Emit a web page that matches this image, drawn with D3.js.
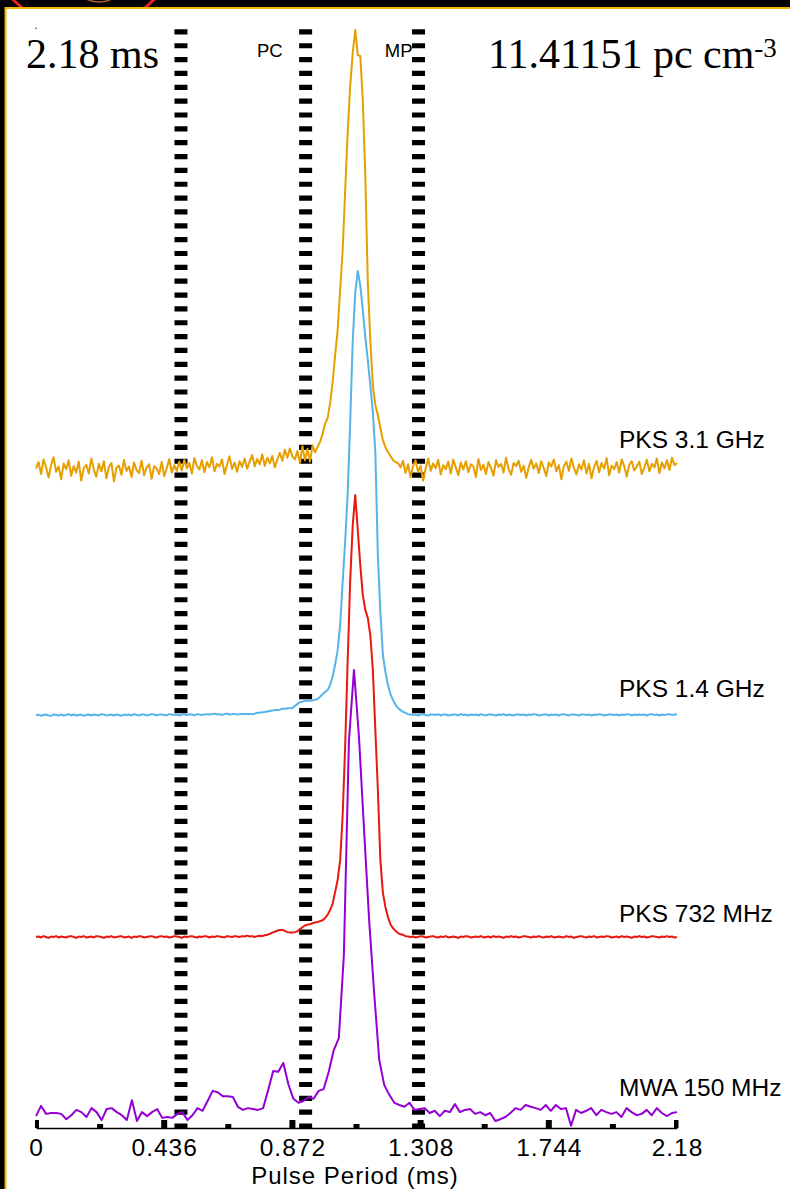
<!DOCTYPE html>
<html>
<head>
<meta charset="utf-8">
<script src="https://cdn.jsdelivr.net/npm/d3@7"></script>
<style>
  html, body { margin: 0; padding: 0; background: #000; }
  svg { display: block; }
</style>
</head>
<body>
<svg width="790" height="1189"></svg>
<script>
// pulse period in ms, and the axis ticks
const period = 2.18;
const tickValues = [0, 0.436, 0.872, 1.308, 1.744, 2.18];
const tickLabels = ['0', '0.436', '0.872', '1.308', '1.744', '2.18'];
const minorTicks = [0.218, 0.654, 1.09, 1.526, 1.962];

// phase windows (ms) marked with dashed lines
const windowEdges = [0.493, 0.917, 1.301];
const windowNames = ['PC', 'MP'];

const bands = ['PKS 3.1 GHz', 'PKS 1.4 GHz', 'PKS 732 MHz', 'MWA 150 MHz'];

// normalised profiles (% of peak), uniform phase bins over one period
const pks3100 = [
  0.3, 1.8, -0.9, 2.4, 0.6, -1.7, 1.1, 2.9, -0.4, 0.8,
  -2.1, 1.5, 0.2, 2.2, -1.3, 0.9, -0.6, 1.9, -2.4, 0.4,
  1.2, -0.8, 2.6, 0.1, -1.5, 1.4, -0.3, 2.0, -1.9, 0.7,
  1.6, -2.6, 0.5, 1.0, -1.1, 2.3, -0.2, 0.8, -1.6, 1.7,
  0.0, -0.7, 2.1, -1.2, 0.6, 1.3, -2.0, 0.9, 0.3, -0.9,
  1.8, -1.4, 0.4, 2.5, -0.6, 1.1, -0.2, 1.9, -0.1, 2.3,
  0.4, 1.6, -0.8, 2.7, 0.9, 0.1, 2.2, -0.5, 1.8, 0.6,
  2.9, -0.3, 1.4, 0.8, 2.4, -0.9, 1.2, 3.1, 0.2, 1.7,
  -0.4, 2.0, 0.7, 2.6, 0.3, 1.9, 3.4, 0.8, 2.5, 1.3,
  3.6, 0.9, 2.8, 1.5, 3.2, 0.6, 2.4, 3.9, 2.1, 4.6,
  2.8, 4.9, 3.1, 2.4, 4.3, 1.6, 5.4, 2.2, 4.8, 1.9,
  5.6, 4.0, 5.2, 6.4, 8.2, 10.5, 11.8, 15.2, 20.0, 26.1,
  31.8, 40.9, 50.0, 63.6, 76.8, 87.3, 94.8, 100, 94.3, 94.1,
  84.1, 67.0, 42.5, 29.5, 19.3, 14.8, 12.5, 9.5, 6.8, 5.2,
  4.1, 3.2, 2.3, 1.8, 1.6, 0.6, 2.1, -0.7, 1.3, -1.6,
  0.9, 2.2, -0.4, 1.0, -2.4, 0.3, 2.6, -0.2, 1.5, 0.4,
  2.3, -1.0, 1.1, 0.2, 1.9, -0.8, 2.4, 0.6, -1.2, 1.7,
  0.1, 2.0, -0.5, 1.3, 0.8, -1.6, 2.5, 0.0, 1.2, -0.9,
  1.8, 0.5, -1.3, 2.2, 0.7, 1.4, -0.6, 2.8, 0.2, -1.1,
  1.6, 0.9, 2.1, -0.4, 1.0, -1.8, 0.6, 2.3, 0.3, 1.5,
  -0.7, 2.0, 0.4, -1.4, 1.7, 0.8, 2.4, -0.3, 1.1, -2.1,
  0.9, 1.9, -0.2, 2.6, 0.5, -1.0, 1.3, 0.1, 2.2, -0.8,
  1.4, -1.9, 0.7, 2.1, -0.5, 1.6, 0.3, 2.7, -1.2, 1.0,
  0.2, 1.8, -0.6, 2.4, 0.9, -1.5, 1.2, 2.0, -0.1, 0.8,
  1.9, -0.9, 0.5, 2.3, -0.3, 1.4, 0.6, 2.6, -0.7, 1.7,
  0.4, 2.2, 0.0, 2.8, 1.1, 1.6
];

const pks1400 = [
  -0.1, 0.1, -0.2, 0.0, 0.1, -0.1, -0.2, 0.1, 0.0, -0.1,
  0.1, -0.1, 0.0, 0.2, -0.1, 0.1, -0.1, 0.0, 0.1, -0.2,
  0.0, 0.1, -0.1, 0.1, 0.0, -0.1, 0.2, 0.1, -0.1, 0.0,
  0.1, -0.1, 0.1, 0.0, -0.2, 0.1, 0.0, 0.1, -0.1, 0.2,
  0.0, -0.1, 0.1, 0.1, -0.1, 0.0, 0.2, 0.1, -0.1, 0.1,
  0.1, 0.0, -0.1, 0.2, 0.1, 0.0, 0.1, -0.1, 0.1, 0.2,
  0.0, 0.1, 0.1, -0.1, 0.2, 0.1, 0.0, 0.1, 0.2, 0.1,
  0.2, 0.3, 0.1, 0.2, 0.0, 0.2, 0.3, 0.1, 0.2, 0.2,
  0.1, 0.2, 0.2, 0.3, 0.2, 0.2, 0.2, 0.3, 0.5, 0.5,
  0.6, 0.7, 0.8, 0.9, 1.0, 1.1, 1.1, 1.2, 1.4, 1.4,
  1.5, 1.5, 1.6, 2.0, 2.5, 2.9, 3.0, 3.2, 3.2, 3.2,
  3.3, 3.4, 3.6, 4.1, 4.7, 5.2, 5.6, 6.8, 8.6, 11.3,
  14.6, 20.3, 30.0, 39.2, 50.0, 66.2, 84.2, 95.1, 100, 96.8,
  91.2, 85.1, 79.9, 74.3, 68.2, 59.2, 35.8, 23.2, 13.5, 9.7,
  6.8, 4.7, 3.4, 2.3, 1.6, 1.1, 0.7, 0.5, 0.2, 0.1,
  0.0, 0.1, -0.1, 0.1, 0.2, 0.0, -0.1, 0.1, 0.1, 0.0,
  0.2, -0.1, 0.1, 0.1, -0.1, 0.0, 0.1, 0.1, -0.1, 0.2,
  0.0, 0.1, -0.1, 0.1, 0.0, 0.1, -0.1, 0.2, 0.0, -0.1,
  0.1, 0.1, 0.0, -0.1, 0.1, 0.0, 0.2, -0.1, 0.1, 0.0,
  -0.1, 0.1, 0.1, 0.0, 0.1, -0.1, 0.1, 0.0, 0.2, 0.1,
  -0.1, 0.0, 0.1, 0.1, -0.1, 0.1, 0.0, 0.1, -0.1, 0.1,
  0.2, 0.0, -0.1, 0.1, 0.1, 0.0, -0.1, 0.1, 0.1, 0.0,
  0.1, -0.1, 0.1, 0.0, 0.2, 0.1, -0.1, 0.0, 0.1, 0.1,
  0.0, 0.1, -0.1, 0.1, 0.0, 0.2, 0.1, -0.1, 0.1, 0.0,
  0.1, 0.0, 0.1, -0.1, 0.1, 0.2, 0.0, 0.1, -0.1, 0.1,
  0.0, 0.1, 0.2, 0.0, 0.1, 0.1
];

const pks732 = [
  0.0, 0.1, -0.1, 0.2, 0.0, -0.2, 0.1, 0.0, 0.2, -0.1,
  0.1, 0.0, -0.1, 0.1, 0.2, 0.0, -0.2, 0.1, 0.0, 0.2,
  -0.1, 0.0, 0.1, -0.1, 0.2, 0.1, 0.0, -0.2, 0.1, 0.0,
  0.2, -0.1, 0.0, 0.1, 0.2, -0.1, 0.0, 0.1, -0.2, 0.1,
  0.0, 0.2, 0.1, -0.1, 0.0, 0.1, 0.2, 0.0, -0.1, 0.1,
  0.2, 0.0, 0.1, -0.1, 0.0, 0.2, 0.1, 0.0, -0.2, 0.1,
  0.0, 0.1, 0.2, 0.0, -0.1, 0.1, 0.0, 0.2, 0.1, -0.1,
  0.1, 0.0, 0.2, 0.1, 0.0, -0.1, 0.2, 0.1, 0.0, 0.2,
  0.1, 0.0, 0.2, 0.1, 0.3, 0.1, 0.2, 0.0, 0.2, 0.3,
  0.2, 0.4, 0.5, 0.7, 1.0, 1.2, 1.4, 1.6, 1.6, 1.4,
  1.1, 1.0, 1.0, 1.1, 1.3, 1.8, 2.2, 2.6, 2.8, 2.9,
  3.1, 3.3, 3.4, 3.6, 3.8, 4.3, 5.0, 6.1, 7.5, 10.2,
  12.9, 17.4, 27.6, 43.4, 62.7, 80.8, 93.2, 100, 92.1, 84.2,
  77.4, 74.0, 72.2, 68.3, 60.4, 46.8, 33.3, 17.4, 10.0, 6.8,
  4.5, 2.9, 2.0, 1.4, 0.9, 0.6, 0.5, 0.2, 0.1, 0.0,
  0.1, -0.1, 0.0, 0.2, 0.1, -0.1, 0.0, 0.1, 0.2, 0.0,
  -0.1, 0.1, 0.0, 0.2, -0.1, 0.0, 0.1, 0.0, -0.2, 0.1,
  0.0, 0.2, 0.1, -0.1, 0.0, 0.1, 0.0, 0.2, -0.1, 0.0,
  0.1, -0.1, 0.2, 0.0, 0.1, 0.0, -0.2, 0.1, 0.0, 0.2,
  0.0, 0.1, -0.1, 0.0, 0.2, 0.1, 0.0, -0.1, 0.1, 0.0,
  0.2, 0.0, -0.1, 0.1, 0.0, 0.2, -0.1, 0.0, 0.1, 0.0,
  -0.1, 0.2, 0.0, 0.1, -0.2, 0.0, 0.1, 0.2, 0.0, -0.1,
  0.1, 0.0, 0.2, -0.1, 0.0, 0.1, 0.0, 0.2, 0.1, -0.1,
  0.0, 0.1, -0.1, 0.2, 0.0, 0.1, 0.0, -0.2, 0.1, 0.0,
  0.2, 0.0, 0.1, -0.1, 0.0, 0.2, 0.1, 0.0, -0.1, 0.1,
  0.0, 0.2, 0.0, 0.1, -0.1, 0.0
];

const mwa150 = [
  -0.7, 1.6, -0.2, 0.0, 0.0, -0.2, -1.4, -0.5, 0.7, 0.2,
  -0.9, 1.1, 0.2, -1.6, 0.9, 1.1, 0.2, -0.5, -1.6, 2.9,
  -1.8, 0.2, -0.7, 0.2, 0.9, -1.1, -0.9, -1.1, -0.2, 0.2,
  -1.6, -0.5, 1.1, 0.5, 2.7, 5.0, 4.7, 3.8, 3.8, 3.6,
  1.4, 0.7, 1.1, 0.9, 0.7, 1.1, 5.2, 9.5, 9.3, 11.3,
  6.5, 3.2, 2.3, 2.7, 3.6, 3.2, 5.0, 5.4, 9.3, 14.2,
  16.9, 35.7, 84.0, 100, 84.7, 63.9, 43.6, 27.1, 12.0, 6.3,
  4.1, 2.3, 1.8, 1.4, 2.3, 0.7, 0.9, 1.1, 0.0, 0.5,
  -0.7, 0.5, 0.2, 2.0, 0.2, 0.7, 0.9, -0.2, 0.2, -0.5,
  0.0, -1.8, -1.4, -0.9, 0.0, 1.1, 0.7, 1.8, 1.4, 1.1,
  0.7, 1.8, 0.5, 1.8, 0.9, 1.1, -2.9, 0.7, 0.0, 0.5,
  1.1, -0.5, 0.7, 0.2, -0.2, 0.2, -0.9, 1.1, 0.2, -0.5,
  -0.2, 0.7, -0.5, 1.1, 0.0, -0.7, 0.0, 0.2
];

const svg = d3.select('svg');
const width = 790;
const height = 1189;

// layout of the stacked profiles (pixel baselines and peak heights)
const layout = [
  { values: pks3100, color: '#e69f00', base: 470, top: 30, labelY: 448 },
  { values: pks1400, color: '#56b4e9', base: 715, top: 271, labelY: 697 },
  { values: pks732, color: '#e8170f', base: 937, top: 495, labelY: 922 },
  { values: mwa150, color: '#9400d3', base: 1113, top: 670, labelY: 1096 },
];

const x = d3.scaleLinear().domain([0, period]).range([36, 677]);
const axisY = 1128;
const sans = '"Liberation Sans", Arial, sans-serif';
const serif = '"Liberation Serif", "Times New Roman", serif';

// frame
svg.append('rect').attr('width', width).attr('height', height).attr('fill', '#000');
svg.append('circle')
  .attr('cx', 83.5).attr('cy', -68.5).attr('r', 98)
  .attr('fill', 'none').attr('stroke', '#e3231c').attr('stroke-width', 3);
svg.append('circle')
  .attr('cx', 99).attr('cy', -26).attr('r', 28)
  .attr('fill', 'none').attr('stroke', '#b5622c').attr('stroke-width', 1.5);
svg.append('rect')
  .attr('x', 6).attr('y', 8).attr('width', width - 6).attr('height', height - 8)
  .attr('fill', '#fff');
svg.append('path')
  .attr('d', `M5.5,${height}V8H${width}`)
  .attr('fill', 'none').attr('stroke', '#f2b705').attr('stroke-width', 2);

// tiny speck near the top-left corner
svg.append('circle').attr('cx', 36).attr('cy', 28.3).attr('r', 0.8).attr('fill', '#333');

// dashed phase boundaries
svg.append('g')
  .selectAll('line')
  .data(windowEdges)
  .join('line')
  .attr('x1', d => x(d)).attr('x2', d => x(d))
  .attr('y1', 29.3).attr('y2', axisY)
  .attr('stroke', '#000')
  .attr('stroke-width', 13)
  .attr('stroke-dasharray', '5.2 8.65');

// profiles
layout.forEach((p) => {
  const y = d3.scaleLinear().domain([0, 100]).range([p.base, p.top]);
  const line = d3.line()
    .x((d, i, arr) => x(i * period / (arr.length - 1)))
    .y(d => y(d));
  svg.append('path')
    .datum(p.values)
    .attr('d', line)
    .attr('fill', 'none')
    .attr('stroke', p.color)
    .attr('stroke-width', 2)
    .attr('stroke-linejoin', 'round');
});

// band labels
svg.append('g')
  .selectAll('text')
  .data(bands)
  .join('text')
  .attr('x', 619)
  .attr('y', (d, i) => layout[i].labelY)
  .attr('font-family', sans)
  .attr('font-size', 24.5)
  .attr('fill', '#000')
  .text(d => d);

// window names next to the dashed lines
svg.append('text')
  .attr('x', x(windowEdges[1]) - 23).attr('y', 57)
  .attr('text-anchor', 'end')
  .attr('font-family', sans)
  .attr('font-size', 18.5)
  .text(windowNames[0]);
svg.append('text')
  .attr('x', x(windowEdges[2]) - 6).attr('y', 57)
  .attr('text-anchor', 'end')
  .attr('font-family', sans)
  .attr('font-size', 18.5)
  .text(windowNames[1]);

// x axis
const axis = d3.axisBottom(x)
  .tickValues(tickValues)
  .tickFormat((d, i) => tickLabels[i])
  .tickSizeInner(0)
  .tickSizeOuter(0);
const gx = svg.append('g')
  .attr('transform', `translate(0,${axisY})`)
  .call(axis);
gx.select('.domain').attr('stroke', '#000').attr('stroke-width', 1.5);
gx.selectAll('.tick text')
  .attr('y', 28).attr('dy', null)
  .attr('font-family', sans)
  .attr('font-size', 24.5)
  .attr('letter-spacing', 1)
  .attr('fill', '#000');

// chunky tick marks pointing up from the axis
svg.append('defs').append('clipPath').attr('id', 'axclip')
  .append('rect').attr('x', 35).attr('y', 0).attr('width', 643.5).attr('height', height);
const tickG = svg.append('g').attr('clip-path', 'url(#axclip)');
tickG.selectAll('rect.major')
  .data(tickValues)
  .join('rect')
  .attr('class', 'major')
  .attr('x', d => x(d) - 3).attr('y', axisY - 8)
  .attr('width', 6).attr('height', 8)
  .attr('fill', '#000');
tickG.selectAll('rect.minor')
  .data(minorTicks)
  .join('rect')
  .attr('class', 'minor')
  .attr('x', d => x(d) - 3).attr('y', axisY - 4)
  .attr('width', 6).attr('height', 4)
  .attr('fill', '#000');

svg.append('text')
  .attr('x', 355).attr('y', 1184)
  .attr('text-anchor', 'middle')
  .attr('font-family', sans)
  .attr('font-size', 24)
  .attr('letter-spacing', 1)
  .text('Pulse Period (ms)');

// period and dispersion measure
svg.append('text')
  .attr('x', 26).attr('y', 68)
  .attr('font-family', serif)
  .attr('font-size', 42)
  .text('2.18 ms');
const dm = svg.append('text')
  .attr('x', 488).attr('y', 68)
  .attr('font-family', serif)
  .attr('font-size', 42);
dm.append('tspan').text('11.41151 pc cm');
dm.append('tspan').attr('font-size', 27).attr('dy', -11).text('-3');
</script>
</body>
</html>
